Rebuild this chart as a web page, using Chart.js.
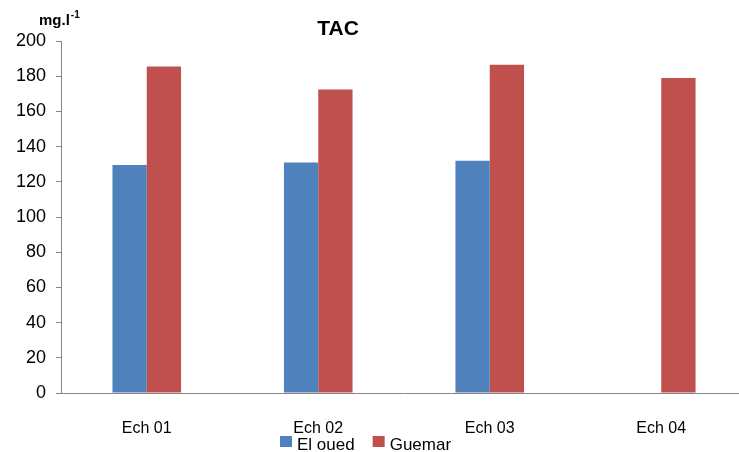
<!DOCTYPE html>
<html>
<head>
<meta charset="utf-8">
<script src="https://cdn.jsdelivr.net/npm/chart.js@4/dist/chart.umd.min.js"></script>
<style>
  body { margin: 0; overflow: hidden; background: #fff; }
  #wrap { width: 750px; height: 452px; position: relative; }
</style>
</head>
<body>
<div id="wrap"><canvas id="tacChart"></canvas></div>
<script>
// data
const categories = ['Ech 01', 'Ech 02', 'Ech 03', 'Ech 04'];
const elOued = [129.5, 131, 132, null];
const guemar = [185.5, 172.5, 186.5, 179];
const yTicks = [0, 200, 20]; // min, max, step

const FONT = '"Liberation Sans", Arial, sans-serif';

// title, unit label and the legend under the axis labels
const labelsPlugin = {
  id: 'labels',
  afterDraw(chart) {
    const c = chart.ctx;
    c.save();
    c.fillStyle = '#000';
    c.textBaseline = 'alphabetic';
    c.textAlign = 'center';
    c.font = 'bold 21px ' + FONT;
    c.fillText('TAC', 338, 35);
    c.textAlign = 'left';
    c.font = 'bold 15px ' + FONT;
    c.fillText('mg.l', 39, 25);
    const w = c.measureText('mg.l').width;
    c.font = 'bold 10px ' + FONT;
    c.fillText('-1', 39 + w + 1, 18);

    // legend
    c.font = '17px ' + FONT;
    let x = 280;
    chart.data.datasets.forEach(ds => {
      c.fillStyle = ds.backgroundColor;
      c.fillRect(x, 436, 12, 11);
      c.fillStyle = '#000';
      c.fillText(ds.label, x + 17, 450);
      x += 17 + c.measureText(ds.label).width + 18;
    });
    c.restore();
  }
};

const ctx = document.getElementById('tacChart').getContext('2d');
const tacChart = new Chart(ctx, {
  type: 'bar',
  data: {
    labels: categories,
    datasets: [{
      label: 'El oued',
      data: elOued,
      backgroundColor: '#4F81BD',
      categoryPercentage: 0.4,
      barPercentage: 1.0
    }, {
      label: 'Guemar',
      data: guemar,
      backgroundColor: '#C0504D',
      categoryPercentage: 0.4,
      barPercentage: 1.0
    }]
  },
  options: {
    responsive: true,
    maintainAspectRatio: false,
    animation: false,
    layout: { padding: { top: 41, right: 3, left: 0, bottom: 0 } },
    plugins: {
      title: { display: false },
      tooltip: { enabled: false },
      legend: { display: false }
    },
    scales: {
      x: {
        afterFit(scale) { scale.height = 59; },
        grid: { display: false },
        border: { display: true, color: '#868686', width: 1 },
        ticks: {
          color: '#000',
          padding: 18,
          font: { family: FONT, size: 16 }
        }
      },
      y: {
        min: yTicks[0],
        max: yTicks[1],
        afterFit(scale) { scale.width = 61; },
        grid: { display: true, drawOnChartArea: false, drawTicks: true, tickLength: 5, color: '#868686' },
        border: { display: true, color: '#868686', width: 1 },
        ticks: {
          stepSize: yTicks[2],
          color: '#000',
          padding: 10,
          font: { family: FONT, size: 18 }
        }
      }
    }
  },
  plugins: [labelsPlugin]
});
</script>
</body>
</html>
